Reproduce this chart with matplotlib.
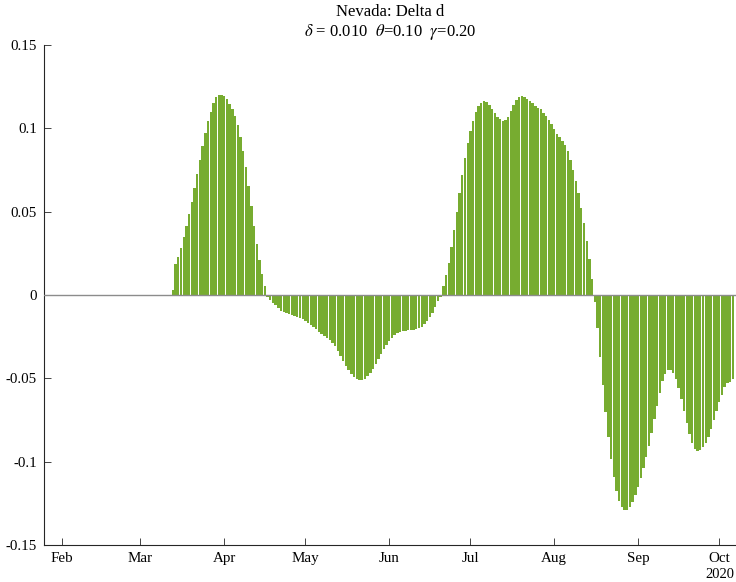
import matplotlib
matplotlib.use('Agg')
import matplotlib.pyplot as plt
import matplotlib.dates as mdates
import pandas as pd

plt.rcParams['font.family'] = ['Liberation Serif', 'DejaVu Serif']
plt.rcParams['mathtext.fontset'] = 'stix'
plt.rcParams['axes.unicode_minus'] = False

# daily values of delta d, starting 2020-01-22
start_date = '2020-01-22'
delta_d = [0.0] * 51 + [
    # first rise, from Mar 13
    0.003, 0.0184, 0.023, 0.0284, 0.0346, 0.0414, 0.0484, 0.056, 0.0644, 0.0726,
    0.081, 0.0894, 0.097, 0.1044, 0.110, 0.1154, 0.1186, 0.1202, 0.1202, 0.1194,
    0.1174, 0.1146, 0.1114, 0.1074, 0.1018, 0.0946, 0.0866, 0.077, 0.0654, 0.0534,
    0.0416, 0.0306, 0.021, 0.0126, 0.0056,
    # dip in May / June
    -0.0014, -0.003, -0.0046, -0.0062, -0.0078, -0.0094, -0.0102, -0.0108, -0.0116, -0.0122,
    -0.0128, -0.0132, -0.0136, -0.0144, -0.0154, -0.0166, -0.0178, -0.019, -0.0204, -0.022,
    -0.0234, -0.0246, -0.0258, -0.027, -0.0286, -0.0306, -0.0334, -0.0366, -0.0396, -0.0426,
    -0.0452, -0.0476, -0.0492, -0.0504, -0.0508, -0.0508, -0.0502, -0.0488, -0.0468, -0.0442,
    -0.0412, -0.0384, -0.0356, -0.0326, -0.0302, -0.0278, -0.0258, -0.0242, -0.023, -0.0222,
    -0.0218, -0.0214, -0.0212, -0.0212, -0.021, -0.0206, -0.02, -0.019, -0.0176, -0.0158,
    -0.0134, -0.0106, -0.0074, -0.0038, -0.001,
    # summer rise
    0.0054, 0.0118, 0.0194, 0.0286, 0.0388, 0.0496, 0.061, 0.0718, 0.082, 0.091,
    0.0984, 0.1046, 0.1096, 0.1132, 0.1154, 0.1162, 0.1158, 0.1142, 0.1118, 0.109,
    0.1066, 0.1054, 0.1046, 0.105, 0.107, 0.1104, 0.1142, 0.117, 0.1186, 0.1192,
    0.1186, 0.1174, 0.1162, 0.115, 0.1134, 0.1122, 0.1114, 0.1094, 0.1074, 0.105,
    0.1024, 0.0994, 0.0966, 0.0946, 0.0924, 0.0898, 0.0862, 0.081, 0.075, 0.0682,
    0.061, 0.0522, 0.043, 0.0326, 0.0218, 0.0096,
    # autumn drop
    -0.004, -0.02, -0.037, -0.0542, -0.0704, -0.085, -0.0982, -0.1094, -0.1178, -0.1234,
    -0.1272, -0.1292, -0.1292, -0.1272, -0.124, -0.12, -0.115, -0.1098, -0.1036, -0.097,
    -0.0904, -0.0826, -0.0746, -0.0666, -0.0586, -0.0518, -0.0474, -0.045, -0.045, -0.047,
    -0.0504, -0.0556, -0.0624, -0.0694, -0.077, -0.0836, -0.089, -0.0922, -0.0934, -0.0932,
    -0.0914, -0.089, -0.0854, -0.0806, -0.075, -0.0694, -0.0644, -0.06, -0.0554, -0.053,
    -0.052, -0.0502,
]
dates = pd.date_range(start_date, periods=len(delta_d), freq='D')

y_ticks = [-0.15, -0.1, -0.05, 0, 0.05, 0.1, 0.15]
y_tick_labels = ['-0.15', '-0.1', '-0.05', '0', '0.05', '0.1', '0.15']
month_ticks = pd.date_range('2020-02-01', '2020-10-01', freq='MS')

fig = plt.figure(figsize=(7.36, 5.82), dpi=100)
ax = fig.add_axes([44 / 736, 1 - 545 / 582, 1 - 44 / 736, 500 / 582])

ax.bar(dates, delta_d, width=0.88, color='#77AC30', linewidth=0, zorder=2)
ax.axhline(0, color='0.55', lw=1.0, zorder=3)

feb1 = mdates.date2num(pd.Timestamp('2020-02-01'))
ax.set_xlim(feb1 - 6.65, feb1 + 249.2)
ax.set_ylim(-0.15, 0.15)

ax.set_yticks(y_ticks)
ax.set_yticklabels(y_tick_labels)
ax.set_xticks(month_ticks)
ax.xaxis.set_major_formatter(mdates.DateFormatter('%b'))

ax.spines['top'].set_visible(False)
ax.spines['right'].set_visible(False)
for s in ['left', 'bottom']:
    ax.spines[s].set_color('0.15')
    ax.spines[s].set_linewidth(0.8)
ax.tick_params(axis='both', direction='in', length=5, width=0.6, color='0.15',
               labelsize=10.8, labelcolor='black')
ax.tick_params(axis='y', pad=5)
ax.tick_params(axis='x', pad=5)

ax.text(0.998, -0.045, '2020', transform=ax.transAxes, ha='right', va='top', fontsize=10.5)

fig.text(390 / 736, 1 - 12 / 582, 'Nevada: Delta d', ha='center', va='center', fontsize=12)
fig.text(390 / 736, 1 - 32 / 582,
         r'$\delta$ = 0.010  $\theta$=0.10  $\gamma$=0.20',
         ha='center', va='center', fontsize=12)

plt.savefig('out.png', dpi=100)
